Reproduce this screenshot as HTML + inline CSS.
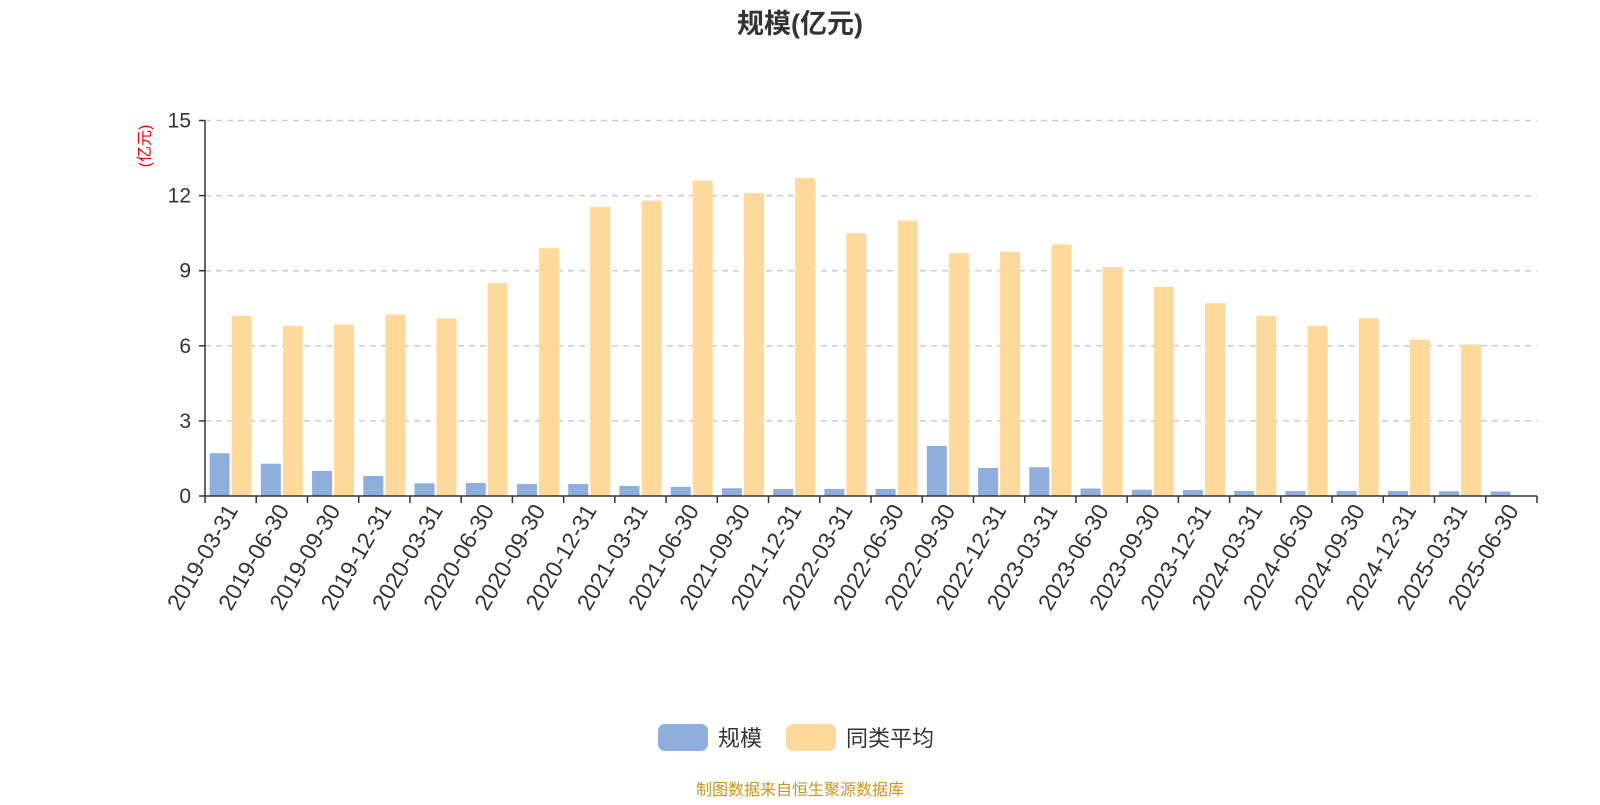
<!DOCTYPE html>
<html><head><meta charset="utf-8"><style>
body{margin:0;background:#fff;width:1600px;height:800px;overflow:hidden;font-family:"Liberation Sans","Noto Sans CJK SC",sans-serif}
</style></head><body>
<svg id="chart" width="1600" height="800" xmlns="http://www.w3.org/2000/svg" font-family="Liberation Sans, Noto Sans CJK SC, sans-serif">
<text x="800" y="33" text-anchor="middle" font-size="27" font-weight="bold" fill="#333">规模(亿元)</text>
<text transform="translate(150,146) rotate(-90)" text-anchor="middle" font-size="16" fill="#e00">(亿元)</text>
<g id="grid"></g><g id="bars"></g><g id="axes"></g>
<g>
<g><rect x="658" y="724" width="50" height="27" rx="7" fill="#8eaedb"/><text x="718" y="746" font-size="22" fill="#333">规模</text></g>
<g><rect x="786" y="724" width="50" height="27" rx="7" fill="#ffd99b"/><text x="846" y="746" font-size="22" fill="#333">同类平均</text></g>
</g>
<text x="800" y="795" text-anchor="middle" font-size="16" fill="#c8951e">制图数据来自恒生聚源数据库</text>
</svg>
<script>
const categories=["2019-03-31","2019-06-30","2019-09-30","2019-12-31","2020-03-31","2020-06-30","2020-09-30","2020-12-31","2021-03-31","2021-06-30","2021-09-30","2021-12-31","2022-03-31","2022-06-30","2022-09-30","2022-12-31","2023-03-31","2023-06-30","2023-09-30","2023-12-31","2024-03-31","2024-06-30","2024-09-30","2024-12-31","2025-03-31","2025-06-30"];
const scaleValues=[1.71,1.29,1.0,0.8,0.51,0.52,0.48,0.48,0.4,0.37,0.31,0.28,0.28,0.28,2.0,1.12,1.15,0.3,0.25,0.24,0.2,0.2,0.2,0.2,0.19,0.18];
const avgValues=[7.2,6.8,6.85,7.25,7.1,8.5,9.9,11.55,11.8,12.6,12.1,12.7,10.5,11.0,9.7,9.75,10.05,9.15,8.35,7.7,7.2,6.8,7.1,6.25,6.05,null];
const yTicks=[0,3,6,9,12,15];
const NS="http://www.w3.org/2000/svg";
const X0=205,X1=1537,Y0=496,Y1=120.5,YMAX=15;
const band=(X1-X0)/categories.length;
const y=v=>Y0-(v/YMAX)*(Y0-Y1);
const x=i=>X0+i*band;
function mk(tag,attrs,parent){const e=document.createElementNS(NS,tag);for(const k in attrs)e.setAttribute(k,attrs[k]);parent.appendChild(e);return e;}
const grid=document.getElementById('grid'),bars=document.getElementById('bars'),axes=document.getElementById('axes');
yTicks.forEach(t=>{
 if(t>0){const g=mk('line',{x1:X0,x2:X1,y1:y(t),y2:y(t),stroke:'#ccc','stroke-width':1.5,'stroke-dasharray':'6,5'},grid);
 
 }
 const l=mk('text',{x:X0-14,y:y(t)+7,'text-anchor':'end','font-size':21,fill:'#333'},axes);l.textContent=t;
 
 
 mk('line',{x1:X0-6,x2:X0,y1:y(t),y2:y(t),stroke:'#333','stroke-width':1.5},axes);
});
const bw=20;
categories.forEach((c,i)=>{
 const cx=x(i)+band/2;
 const b=mk('rect',{x:cx-bw-1,y:y(scaleValues[i]),width:bw,height:Y0-y(scaleValues[i]),fill:'#8eaedb'},bars);
 
 
 if(avgValues[i]!=null){const a=mk('rect',{x:cx+1,y:y(avgValues[i]),width:bw,height:Y0-y(avgValues[i]),fill:'#ffd99b'},bars);
 
 }
 const t=mk('text',{transform:`translate(${cx+8},${Y0+14}) rotate(-60)`,'text-anchor':'end','font-size':23,fill:'#333'},axes);t.textContent=c;
 
 
});
for(let i=0;i<=categories.length;i++)mk('line',{x1:x(i),x2:x(i),y1:Y0,y2:Y0+7,stroke:'#333','stroke-width':1.5},axes);
const ya=mk('line',{x1:X0,x2:X0,y1:Y1,y2:Y0,stroke:'#333','stroke-width':1.5},axes);


const xa=mk('line',{x1:X0,x2:X1,y1:Y0,y2:Y0,stroke:'#333','stroke-width':1.5},axes);


</script>
</body></html>
